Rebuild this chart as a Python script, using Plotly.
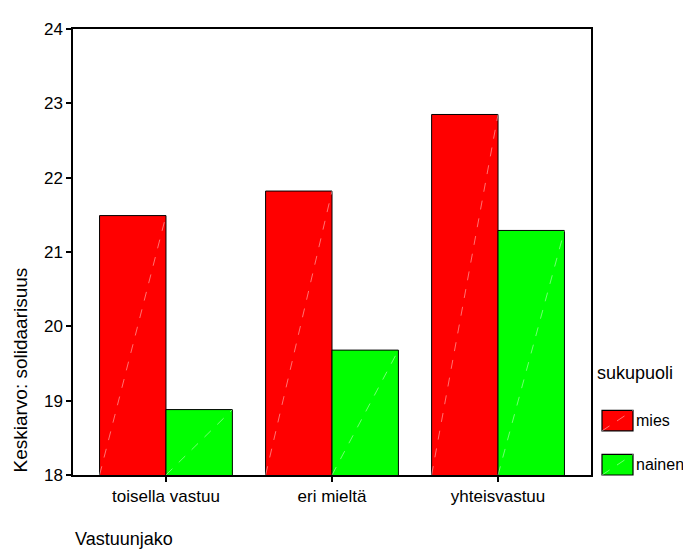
import plotly.graph_objects as go

categories = ["toisella vastuu", "eri mieltä", "yhteisvastuu"]
mies = [21.49, 21.82, 22.85]
nainen = [18.88, 19.68, 21.29]
series_names = ["mies", "nainen"]
series_colors = ["#FF0000", "#00FF00"]
y_ticks = [18, 19, 20, 21, 22, 23, 24]

FONT = "Liberation Sans, Arial, sans-serif"
OFF = 8  # page body margin
W, H = 691 - OFF, 555 - OFF
# target screen positions of plot area
SL, SR, ST, SB = 73, 591, 20, 475
L, T = SL - OFF, ST - OFF
R = W - (SR - OFF)
B = H - (SB - OFF)
pw = SR - SL
ph = SB - ST


def px_x(p):
    return (p - SL) / pw


def px_y(p):
    return (SB - p) / ph


fig = go.Figure()
for name, vals, col in zip(series_names, [mies, nainen], series_colors):
    fig.add_trace(go.Bar(
        x=categories, y=vals, name=name,
        marker=dict(color=col, line=dict(color="black", width=1)),
        showlegend=False,
    ))

# faint diagonal highlight lines inside bars (derived from data)
for si, vals in enumerate([mies, nainen]):
    for ci, v in enumerate(vals):
        x0 = ci - 0.4 + 0.4 * si
        x1 = x0 + 0.4
        fig.add_shape(type="line", xref="x", yref="y", x0=x0, y0=y_ticks[0], x1=x1, y1=v,
                      line=dict(color="rgba(255,255,255,0.45)", width=1, dash="dash"), layer="above")

fig.update_layout(
    width=W, height=H,
    margin=dict(l=L, r=R, t=T, b=B, pad=0),
    paper_bgcolor="white", plot_bgcolor="white",
    barmode="group", bargap=0.2, bargroupgap=0,
    font=dict(family=FONT, size=17, color="black"),
    showlegend=False,
)
fig.update_xaxes(
    type="category", range=[-0.56, 2.56],
    showline=True, linecolor="black", linewidth=1.5, mirror=True,
    ticks="outside", ticklen=5, tickcolor="black", tickwidth=1.5,
    showgrid=False, zeroline=False,
    tickfont=dict(family=FONT, size=17, color="black"),
)
fig.update_yaxes(
    range=[18, 24], tickvals=y_ticks, ticktext=[str(t) for t in y_ticks],
    showline=True, linecolor="black", linewidth=1.5, mirror=True,
    ticks="outside", ticklen=5, tickcolor="black", tickwidth=1.5,
    showgrid=False, zeroline=False,
    tickfont=dict(family=FONT, size=17, color="black"),
)

# axis titles
fig.add_annotation(text="Keskiarvo: solidaarisuus", xref="paper", yref="paper",
                   x=px_x(20), y=0, xanchor="center", yanchor="bottom", textangle=-90,
                   showarrow=False, font=dict(family=FONT, size=19, color="black"))
fig.add_annotation(text="Vastuunjako", xref="paper", yref="paper",
                   x=px_x(73), y=px_y(540), xanchor="left", yanchor="middle",
                   showarrow=False, font=dict(family=FONT, size=18, color="black"))

# custom legend
fig.add_annotation(text="sukupuoli", xref="paper", yref="paper",
                   x=px_x(595), y=px_y(371), xanchor="left", yanchor="middle",
                   showarrow=False, font=dict(family=FONT, size=18, color="black"))
legend_rows = [(409, 430), (454, 475)]
for (y0, y1), name, col in zip(legend_rows, series_names, series_colors):
    fig.add_shape(type="rect", xref="paper", yref="paper",
                  x0=px_x(602), x1=px_x(633), y0=px_y(y1), y1=px_y(y0),
                  fillcolor=col, line=dict(color="black", width=1.2))
    fig.add_shape(type="line", xref="paper", yref="paper",
                  x0=px_x(602), x1=px_x(633), y0=px_y(y1), y1=px_y(y0),
                  line=dict(color="rgba(255,255,255,0.45)", width=1, dash="dash"))
    fig.add_annotation(text=name, xref="paper", yref="paper",
                       x=px_x(634), y=px_y((y0 + y1) / 2), xanchor="left", yanchor="middle",
                       showarrow=False, font=dict(family=FONT, size=16, color="black"))

fig.write_html("out.html")
